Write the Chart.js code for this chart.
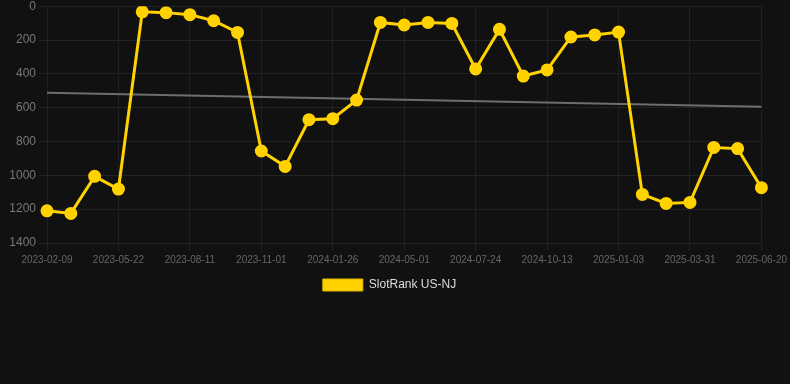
<!DOCTYPE html>
<html>
<head>
<meta charset="utf-8">
<script src="https://cdn.jsdelivr.net/npm/chart.js@4/dist/chart.umd.min.js"></script>
<style>
  html, body { margin: 0; padding: 0; background: #111111; overflow: hidden; }
  #wrap { width: 790px; height: 305px; margin-top: -4px; position: relative; }
</style>
</head>
<body>
<div id="wrap"><canvas id="myChart"></canvas></div>
<script>
var dates = ['2023-02-09', '2023-03-14', '2023-04-18', '2023-05-22', '2023-06-18', '2023-07-15',
             '2023-08-11', '2023-09-07', '2023-10-05', '2023-11-01', '2023-12-01', '2023-12-29',
             '2024-01-26', '2024-02-27', '2024-03-30', '2024-05-01', '2024-05-29', '2024-06-26',
             '2024-07-24', '2024-08-20', '2024-09-16', '2024-10-13', '2024-11-08', '2024-12-06',
             '2025-01-03', '2025-02-01', '2025-03-01', '2025-03-31', '2025-04-27', '2025-05-24',
             '2025-06-20'];
var rank = [1210, 1225, 1006, 1081, 33, 38, 50, 86, 155, 856, 947, 671,
            665, 555, 96, 111, 96, 102, 371, 137, 413, 377, 182, 170,
            153, 1113, 1166, 1160, 835, 842, 1073];
// trend only has its two end values, the line spans the gap
var trend = [511, null, null, null, null, null, null, null, null, null, null, null,
             null, null, null, null, null, null, null, null, null, null, null, null,
             null, null, null, null, null, null, 594];
var yTicks = [0, 200, 400, 600, 800, 1000, 1200, 1400];

var ctx = document.getElementById('myChart').getContext('2d');
var chart = new Chart(ctx, {
    type: 'line',
    data: {
        labels: dates,
        datasets: [{
            label: 'SlotRank US-NJ',
            data: rank,
            borderColor: '#ffd200',
            backgroundColor: '#ffd200',
            borderWidth: 3,
            pointRadius: 5,
            pointHoverRadius: 6,
            tension: 0
        },
        {
            label: 'trend',
            data: trend,
            spanGaps: true,
            borderColor: '#6e6e6e',
            borderWidth: 2,
            pointRadius: 0,
            tension: 0
        }]
    },
    options: {
        responsive: true,
        maintainAspectRatio: false,
        animation: false,
        layout: { padding: { right: 11 } },
        plugins: {
            legend: {
                position: 'bottom',
                labels: {
                    color: '#dddddd',
                    font: { family: 'Arial, "Liberation Sans", sans-serif', size: 12 },
                    boxWidth: 40,
                    boxHeight: 12,
                    filter: function (item) { return item.text !== 'trend'; },
                    generateLabels: function (c) {
                        var items = Chart.defaults.plugins.legend.labels.generateLabels(c);
                        items.forEach(function (it) { it.lineWidth = 1; it.strokeStyle = '#e0b800'; });
                        return items;
                    }
                }
            },
            tooltip: { enabled: false }
        },
        scales: {
            x: {
                ticks: {
                    color: '#666666',
                    font: { family: 'Arial, "Liberation Sans", sans-serif', size: 10 },
                    maxRotation: 0,
                    autoSkip: true,
                    callback: function (v, i) { return i % 3 === 0 ? dates[i] : null; }
                },
                grid: { color: '#1f1f1f' },
                border: { display: false }
            },
            y: {
                reverse: true,
                min: 0,
                max: 1400,
                afterBuildTicks: function (axis) {
                    axis.ticks = yTicks.map(function (v) { return { value: v }; });
                },
                afterFit: function (axis) { axis.width = 47; },
                ticks: {
                    color: '#777777',
                    font: { family: 'Arial, "Liberation Sans", sans-serif', size: 12 },
                    callback: function (v) { return String(v); }
                },
                grid: { color: '#222222' },
                border: { display: false }
            }
        }
    }
});
</script>
</body>
</html>
